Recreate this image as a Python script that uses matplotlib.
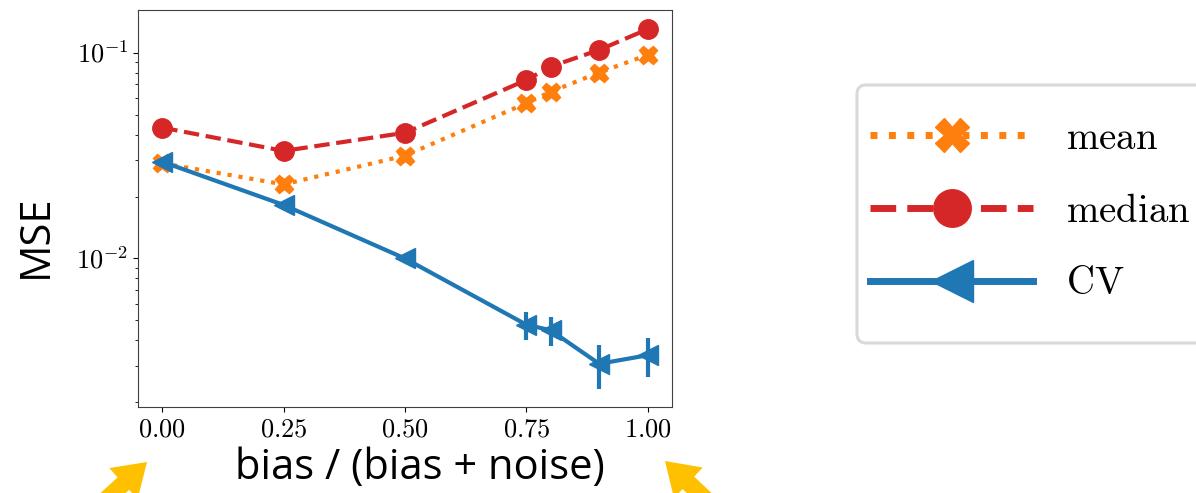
import matplotlib
matplotlib.use("Agg")
import matplotlib.pyplot as plt
import numpy as np
from matplotlib.lines import Line2D
from matplotlib.patches import FancyArrow, FancyBboxPatch
from matplotlib.ticker import FixedLocator, FuncFormatter, NullFormatter

# %% Data

ratio = [0.0, 0.25, 0.5, 0.75, 0.8, 0.9, 1.0]

mse_mean = [0.0290, 0.0229, 0.0316, 0.0568, 0.0645, 0.0800, 0.0975]
mse_median = [0.0432, 0.0333, 0.0408, 0.0736, 0.0855, 0.1030, 0.1300]
mse_cv = [0.0295, 0.0182, 0.0100, 0.00477, 0.00448, 0.00308, 0.00339]
cv_low = [0.0295, 0.0182, 0.0100, 0.00403, 0.00374, 0.00233, 0.00265]
cv_high = [0.0295, 0.0182, 0.0100, 0.00549, 0.00520, 0.00378, 0.00411]

xticks = [0.0, 0.25, 0.5, 0.75, 1.0]
yticks = [1e-2, 1e-1]

C_MEAN = "#ff7f0e"
C_MEDIAN = "#d62728"
C_CV = "#1f77b4"
C_ARROW = "#ffc000"

# %% Style

plt.rcParams["mathtext.fontset"] = "cm"
plt.rcParams["axes.edgecolor"] = "#404040"

W, H = 1196, 493
fig = plt.figure(figsize=(W / 100, H / 100), dpi=100)
ax = fig.add_axes([138 / W, 1 - 407 / H, (672 - 138) / W, (407 - 10) / H])

# %% Lines

cv = np.array(mse_cv)
ax.errorbar(
    ratio,
    cv,
    yerr=[cv - np.array(cv_low), np.array(cv_high) - cv],
    fmt="<-",
    color=C_CV,
    lw=3,
    ms=14,
    elinewidth=3,
    capsize=0,
)
ax.plot(ratio, mse_mean, "X:", color=C_MEAN, lw=3, ms=13)
ax.plot(ratio, mse_median, "o--", color=C_MEDIAN, lw=3, ms=14)

ax.set_yscale("log")
ax.set_ylim(0.0019, 0.161)
ax.set_xlim(-0.05, 1.05)

ax.xaxis.set_major_locator(FixedLocator(xticks))
ax.xaxis.set_major_formatter(FuncFormatter(lambda v, p: rf"${v:.2f}$"))
ax.yaxis.set_major_locator(FixedLocator(yticks))
ax.yaxis.set_major_formatter(
    FuncFormatter(lambda v, p: rf"$10^{{{int(round(np.log10(v)))}}}$")
)
ax.yaxis.set_minor_formatter(NullFormatter())
ax.tick_params(labelsize=19)

# axis labels (placed by hand, they sit off-centre in the reference)
fig.text(420 / W, 1 - 468 / H, "bias / (bias + noise)", family="Open Sans",
         fontsize=30, ha="center", va="center")
fig.text(36 / W, 1 - 236 / H, "MSE", family="Open Sans", fontsize=30,
         rotation=90, ha="center", va="center")

# %% Legend (frame drawn separately, it runs off the right edge)


def px(x, y):
    return x / 100, (H - y) / 100


fx, fy = px(857, 343)
fig.patches.append(
    FancyBboxPatch(
        (fx, fy), 3.6, (343 - 85) / 100,
        boxstyle="round,pad=0,rounding_size=0.09",
        facecolor="white", edgecolor="#d9d9d9", lw=2.2,
        transform=fig.dpi_scale_trans,
    )
)

handles = [
    Line2D([], [], color=C_MEAN, ls=":", marker="X", lw=5, ms=24),
    Line2D([], [], color=C_MEDIAN, ls="--", marker="o", lw=5, ms=27),
    Line2D([], [], color=C_CV, ls="-", marker="<", lw=5, ms=30),
]
labels = [r"$\mathrm{mean}$", r"$\mathrm{median}$", r"$\mathrm{CV}$"]
fig.legend(
    handles,
    labels,
    loc="upper left",
    bbox_to_anchor=(870 / W, 1 - 119 / H),
    fontsize=28,
    handlelength=4.2,
    handletextpad=0.85,
    labelspacing=0.89,
    borderpad=0,
    borderaxespad=0,
    frameon=False,
)

# %% Yellow pointer arrows

for tip, tail in [((147, 462), (100, 505)), ((665, 461), (712, 505))]:
    x0, y0 = px(*tail)
    x1, y1 = px(*tip)
    fig.patches.append(
        FancyArrow(
            x0, y0, x1 - x0, y1 - y0,
            width=0.17, head_width=0.42, head_length=0.32,
            length_includes_head=True, color=C_ARROW, lw=0,
            transform=fig.dpi_scale_trans,
        )
    )

fig.savefig("out.png", dpi=100)
